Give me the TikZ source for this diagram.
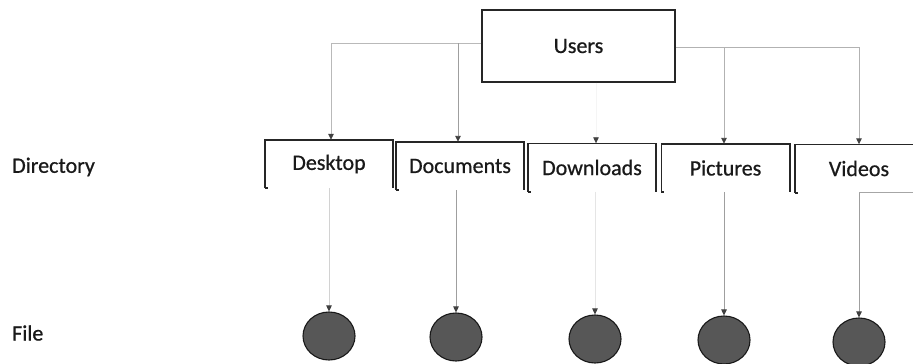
\documentclass[tikz,border=0pt]{standalone}
\usepackage{fontspec}
\setmainfont{Carlito}
\newfontfamily\lblfont[FakeBold=0.7]{Carlito}
\usetikzlibrary{arrows.meta,shapes.geometric}
\begin{document}
\begin{tikzpicture}[x=1pt,y=-1pt,
  lbl/.style={font=\lblfont\fontsize{22}{26}\selectfont, text=black!90},
  topbox/.style={draw=black!85, line width=1.6pt, minimum width=193pt, minimum height=72pt, inner sep=0pt, lbl},
  dirbox/.style={minimum width=128pt, minimum height=48pt, inner sep=0pt, lbl},
  boxline/.style={draw=black!85, line width=1.6pt},
  filenode/.style={ellipse, draw=black!90, fill=black!66, line width=1.1pt, minimum width=52pt, minimum height=48pt, inner sep=0pt},
  tip/.style={-{Triangle[length=6pt,width=5.5pt,color=black!75]}},
  conn/.style={tip, draw=gray!75, line width=0.9pt},
  faintconn/.style={tip, draw=gray!35, line width=0.8pt},
  ghostconn/.style={tip, draw=black!4, line width=0.6pt}
]
\clip (0,0) rectangle (913,364);
\useasboundingbox (0,0) rectangle (913,364);

% top node
\node[topbox] (users) at (578.5,46) {Users};

% directory boxes
\node[dirbox] (desk) at (329,164) {Desktop};
\node[dirbox] (doc) at (460,166) {Documents};
\node[dirbox] (dl) at (592,167.5) {Downloads};
\node[dirbox] (pic) at (725.5,168) {Pictures};
\node[dirbox] (vid) at (859,168.5) {Videos};

\foreach \n in {desk,doc,dl,pic,vid}{
  \draw[boxline] (\n.south west) -- (\n.north west) -- (\n.north east) -- (\n.south east);
  \draw[boxline] (\n.south west) -- ([xshift=3pt]\n.south west);
}
\draw[boxline, line width=0.9pt, draw=gray!70] (vid.south) -- (vid.south east);

% file nodes
\node[filenode] (f1) at (329,336) {};
\node[filenode] (f2) at (456,337) {};
\node[filenode] (f3) at (595,339) {};
\node[filenode] (f4) at (724,340) {};
\node[filenode] (f5) at (859,342) {};

% side labels
\node[lbl, anchor=west, inner sep=0pt] (dirlbl) at (12,167) {Directory};
\node[lbl, anchor=west, inner sep=0pt] (filelbl) at (12,333) {File};

% entry points on the directory boxes
\coordinate (deskin) at ([xshift=2pt]desk.north);
\coordinate (docin) at ([xshift=-2pt]doc.north);
\coordinate (dlin) at ([xshift=4pt]dl.north);
\coordinate (picin) at ([xshift=-1.5pt]pic.north);

% connectors from Users
\coordinate (lj) at ([yshift=3pt]users.west);
\coordinate (rj) at ([yshift=-1pt]users.east);
\draw[faintconn, draw=gray!55] (lj) -| (deskin);
\draw[conn] (lj -| docin) -- (docin);
\draw[ghostconn] (users.south -| dlin) -- (dlin);
\draw[conn, draw=gray!60] (rj) -| (vid.north);
\draw[conn, draw=gray!60] (rj -| picin) -- (picin);

% connectors to files
\draw[faintconn] (f1.north |- desk.south) -- (f1.north);
\draw[conn] (f2.north |- doc.south) -- (f2.north);
\draw[faintconn, draw=gray!20] (f3.north |- dl.south) -- (f3.north);
\draw[conn] (f4.north |- pic.south) -- (f4.north);
\draw[conn] (f5.north |- vid.south) -- (f5.north);
\end{tikzpicture}
\end{document}
